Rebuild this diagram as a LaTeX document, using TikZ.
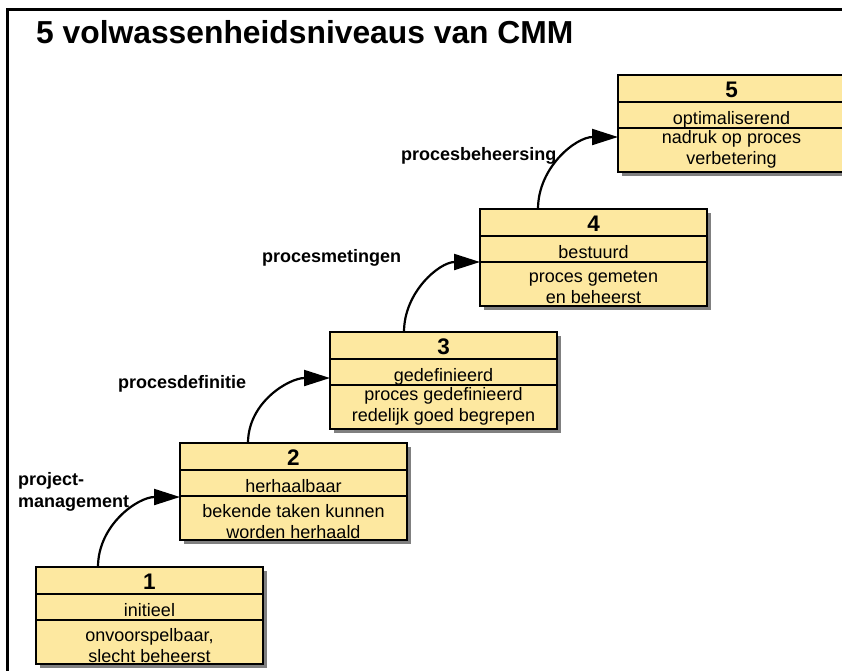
\documentclass[tikz,border=0pt]{standalone}
\usepackage{fontspec}
\setmainfont{Liberation Sans}
\usetikzlibrary{arrows.meta,shadows}

\definecolor{boxfill}{RGB}{253,232,160}
\definecolor{shadowgray}{RGB}{128,128,128}

\tikzset{
  levelbox/.style={draw=black, line width=1.6pt, fill=boxfill,
    minimum width=227pt, minimum height=97pt, inner sep=0pt, outer sep=0pt,
    anchor=north west,
    drop shadow={shadow xshift=4pt, shadow yshift=-4pt, fill=shadowgray, opacity=1}},
  divider/.style={draw=black, line width=1.3pt},
  numtext/.style={inner sep=0pt, anchor=base, font=\fontsize{22.5}{26}\selectfont\bfseries},
  nametext/.style={inner sep=0pt, anchor=base, font=\fontsize{18}{21}\selectfont},
  desctext/.style={inner sep=0pt, anchor=base, font=\fontsize{18}{21}\selectfont},
  steplabel/.style={inner sep=0pt, anchor=base west, font=\fontsize{18}{22}\selectfont\bfseries},
  flow/.style={draw=black, line width=2.2pt, -{Triangle[length=26pt,width=16pt]}},
}

% #1 name, #2 x, #3 y, #4 level number, #5 level name,
% #6 first description line, #7 second description line,
% #8 baseline of the first description line below the top edge
\newcommand\cmmlevel[8]{%
  \node[levelbox] (#1) at (#2,#3) {};
  \draw[divider] ([yshift=-27pt]#1.north west) -- ([yshift=-27pt]#1.north east);
  \draw[divider] ([yshift=-53pt]#1.north west) -- ([yshift=-53pt]#1.north east);
  \node[numtext]  (#1-num)  at ([yshift=-22pt]#1.north) {#4};
  \node[nametext] (#1-name) at ([yshift=-49pt]#1.north) {#5};
  \node[desctext] (#1-da)   at ([yshift=-#8pt]#1.north) {#6};
  \node[desctext] (#1-db)   at ([yshift=-#8pt-21pt]#1.north) {#7};
}

\begin{document}
\begin{tikzpicture}[x=1pt, y=-1pt]
  \useasboundingbox (0,0) rectangle (842,670);
  \fill[white] (0,0) rectangle (842,670);

  % open frame along the left and top edges
  \draw[line width=3pt, line join=miter] (7,672) -- (7,9.5) -- (844,9.5);

  \node[inner sep=0pt, anchor=base west, font=\fontsize{31.8}{36}\selectfont\bfseries]
    (title) at (36,43) {5 volwassenheidsniveaus van CMM};

  % the five maturity levels
  \cmmlevel{L1}{36}{567}{1}{initieel}{onvoorspelbaar,}{slecht beheerst}{74}
  \cmmlevel{L2}{180}{443}{2}{herhaalbaar}{bekende taken kunnen}{worden herhaald}{74}
  \cmmlevel{L3}{330}{332}{3}{gedefinieerd}{proces gedefinieerd}{redelijk goed begrepen}{68}
  \cmmlevel{L4}{480}{209}{4}{bestuurd}{proces gemeten}{en beheerst}{73}
  \cmmlevel{L5}{618}{75}{5}{optimaliserend}{nadruk op proces}{verbetering}{68}

  % transitions between levels
  \draw[flow] ([xshift=62pt]L1.north west) to[out=90,in=180] ([yshift=-54pt]L2.north west);
  \draw[flow] ([xshift=68pt]L2.north west) to[out=90,in=180] ([yshift=-46pt]L3.north west);
  \draw[flow] ([xshift=74pt]L3.north west) to[out=90,in=180] ([yshift=-53pt]L4.north west);
  \draw[flow] ([xshift=58pt]L4.north west) to[out=90,in=180] ([yshift=-62pt]L5.north west);

  \node[steplabel] (lab1a) at (18,485) {project-};
  \node[steplabel] (lab1b) at (18,507) {management};
  \node[steplabel] (lab2) at (118,388) {procesdefinitie};
  \node[steplabel] (lab3) at (262,262) {procesmetingen};
  \node[steplabel] (lab4) at (401,160) {procesbeheersing};
\end{tikzpicture}
\end{document}
